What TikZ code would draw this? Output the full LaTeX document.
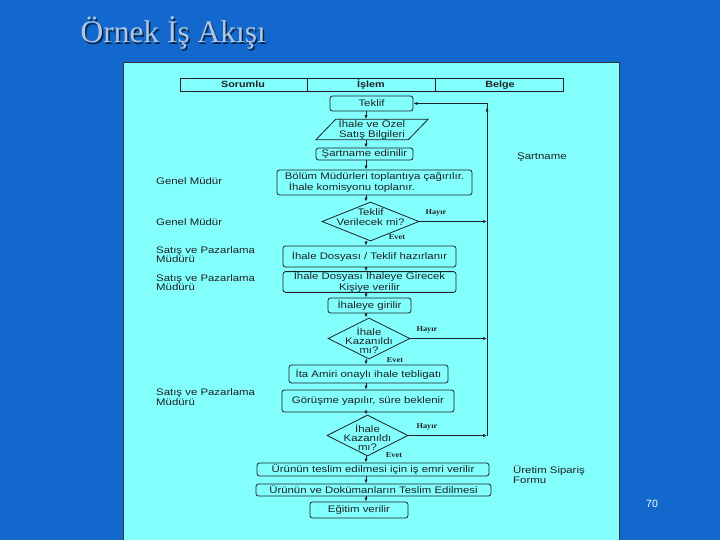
\documentclass[tikz,border=0pt]{standalone}
\usepackage{fontspec}
\usetikzlibrary{shapes.geometric,arrows.meta,calc}
\newfontfamily\semafont[FakeStretch=1.2]{Liberation Sans}
\newfontfamily\baslikfont{Liberation Serif}
\newfontfamily\yanitfont[FakeStretch=1.1]{Liberation Serif}
\newfontfamily\sayfafont{Liberation Sans}

\definecolor{slaytmavi}{RGB}{18,104,204}
\definecolor{panocamgobegi}{RGB}{130,255,252}
\definecolor{baslikgri}{RGB}{178,198,226}
\definecolor{murekkep}{RGB}{30,33,38}

\tikzset{
	adim/.style={draw=murekkep, rounded corners=2.5pt, line width=0.8pt, inner sep=0pt, text=murekkep, font=\semafont\fontsize{9.5}{10.5}\selectfont, align=center},
	karar/.style={draw=murekkep, diamond, line width=0.8pt, inner sep=0pt},
	yazi/.style={text=murekkep, font=\semafont\fontsize{9.5}{10}\selectfont, align=center, inner sep=0pt},
	gorev/.style={text=murekkep, font=\semafont\fontsize{9.5}{9.5}\selectfont, align=left, anchor=west, inner sep=0pt},
	sutun/.style={text=murekkep, font=\semafont\bfseries\fontsize{9}{9}\selectfont, inner sep=0pt},
	yanit/.style={text=murekkep, font=\yanitfont\bfseries\fontsize{7.5}{8}\selectfont, inner sep=0pt},
	akis/.style={-{Latex[length=4pt,width=3.2pt]}, line width=0.7pt, draw=murekkep},
}

\begin{document}
\begin{tikzpicture}[x=1pt, y=-1pt]
	%%%%% ZEMIN %%%%%
	\useasboundingbox (0, 0) rectangle (720, 540);
	\fill[slaytmavi] (0, 0) rectangle (720, 540);
	
	\node[anchor=base west, text=black!65!slaytmavi, font=\baslikfont\fontsize{31.5}{31.5}\selectfont] (golge) at (78.5, 44.5) {Örnek İş Akışı};
	\node[anchor=base west, text=baslikgri, font=\baslikfont\fontsize{31.5}{31.5}\selectfont] (baslik) at (77, 43) {Örnek İş Akışı};
	
	\draw[fill=panocamgobegi, draw=black!80, line width=0.8pt] (123, 62) rectangle (619, 545);
	\node[text=white, font=\sayfafont\fontsize{10.5}{10.5}\selectfont] (sayfa) at (652, 504) {70};
	
	%%%%% SUTUNLAR %%%%%
	\draw[murekkep, line width=0.8pt] (180, 78) rectangle (563, 91);
	\draw[murekkep, line width=0.8pt] (307, 78) -- (307, 91);
	\draw[murekkep, line width=0.8pt] (435, 78) -- (435, 91);
	\node[sutun] (sorumlu) at (243, 84.5) {Sorumlu};
	\node[sutun] (islem) at (371, 84.5) {İşlem};
	\node[sutun] (belge) at (500, 85) {Belge};
	
	%%%%% AKIS %%%%%
	\node[adim, minimum width=83, minimum height=15] (teklif) at (371.5, 103.5) {Teklif};
	\node[yazi, minimum width=92, minimum height=19] (bilgi) at (372, 129.5) {İhale ve Özel\\Satış Bilgileri};
	\draw[murekkep, line width=0.8pt] ($(bilgi.south west)+(-10, 0)$) -- ($(bilgi.north west)+(10, 0)$) -- ($(bilgi.north east)+(10, 0)$) -- ($(bilgi.south east)+(-10, 0)$) -- cycle;
	\node[adim, minimum width=97, minimum height=12] (sartname) at (364.5, 154) {Şartname edinilir};
	\node[adim, minimum width=195, minimum height=25, align=left] (bolum) at (374.5, 182.5) {Bölüm Müdürleri toplantıya çağırılır.\\\hspace{4pt}İhale komisyonu toplanır.};
	\node[karar, minimum width=97, minimum height=39] (karar1) at (370.5, 221.5) {};
	\node[yazi] (karar1yazi) at (370.5, 217) {Teklif\\Verilecek mi?};
	\node[adim, minimum width=173, minimum height=21] (dosya) at (369.5, 256.5) {İhale Dosyası / Teklif hazırlanır};
	\node[adim, minimum width=173, minimum height=20] (kisiye) at (369.5, 282) {İhale Dosyası İhaleye Girecek\\Kişiye verilir};
	\node[adim, minimum width=83, minimum height=15] (girilir) at (369.5, 305.5) {İhaleye girilir};
	\node[karar, minimum width=82, minimum height=41] (karar2) at (369, 338.5) {};
	\node[yazi, font=\semafont\fontsize{9.5}{9}\selectfont] (karar2yazi) at (369, 340) {İhale\\Kazanıldı\\mı?};
	\node[adim, minimum width=159, minimum height=18] (tebligat) at (368.5, 374) {İta Amiri onaylı ihale tebligatı};
	\node[adim, minimum width=172, minimum height=22] (gorusme) at (368, 401) {Görüşme yapılır, süre beklenir};
	\node[karar, minimum width=81, minimum height=41] (karar3) at (367.5, 435.5) {};
	\node[yazi, font=\semafont\fontsize{9.5}{9}\selectfont] (karar3yazi) at (367.5, 437) {İhale\\Kazanıldı\\mı?};
	\node[adim, minimum width=232, minimum height=13] (isemri) at (373, 469.5) {Ürünün teslim edilmesi için iş emri verilir};
	\node[adim, minimum width=235, minimum height=12] (teslim) at (373.5, 490) {Ürünün ve Dokümanların Teslim Edilmesi};
	\node[adim, minimum width=98, minimum height=16] (egitim) at (359, 510) {Eğitim verilir};
	
	%%%%% SORUMLU / BELGE %%%%%
	\node[gorev] (gm1) at (156, 181) {Genel Müdür};
	\node[gorev] (gm2) at (156, 222) {Genel Müdür};
	\node[gorev] (spm1) at (156, 254.5) {Satış ve Pazarlama\\Müdürü};
	\node[gorev] (spm2) at (156, 282.5) {Satış ve Pazarlama\\Müdürü};
	\node[gorev] (spm3) at (156, 397) {Satış ve Pazarlama\\Müdürü};
	\node[gorev] (belge1) at (517, 157) {Şartname};
	\node[gorev] (belge2) at (513, 474.5) {Üretim Sipariş\\Formu};
	
	\node[yanit] (hayir1) at (436, 213) {Hayır};
	\node[yanit] (evet1) at (397, 237) {Evet};
	\node[yanit] (hayir2) at (427, 330) {Hayır};
	\node[yanit] (evet2) at (395, 360) {Evet};
	\node[yanit] (hayir3) at (427, 427) {Hayır};
	\node[yanit] (evet3) at (394, 455) {Evet};
	
	%%%%% OKLAR %%%%%
	\coordinate (omurga) at (366, 0);
	\coordinate (donus) at (487, 0);
	\coordinate (donusust) at (487, 103.5);
	\coordinate (donusalt) at (487, 436);
	
	\foreach \a/\b in {teklif/bilgi, bilgi/sartname, sartname/bolum, bolum/karar1, karar1/dosya, dosya/kisiye, kisiye/girilir, girilir/karar2, karar2/tebligat, tebligat/gorusme, gorusme/karar3, karar3/isemri, isemri/teslim, teslim/egitim}
		\draw[akis] (\a.south -| omurga) -- (\b.north -| omurga);
	
	\foreach \k in {karar1, karar2, karar3}
		\draw[akis] (\k.east) -- (\k.east -| donus);
	
	\draw[murekkep, line width=0.7pt] (donusalt) -- (donusust);
	\draw[akis] (donusalt) -- ($(donusust)+(0, 4)$);
	\draw[akis] (donusust) -- (teklif.east);
\end{tikzpicture}
\end{document}
